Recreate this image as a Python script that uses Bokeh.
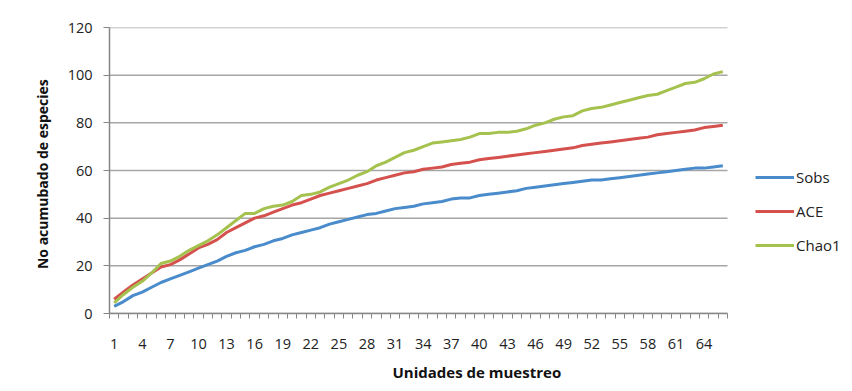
from bokeh.plotting import figure
from bokeh.models import FixedTicker, Legend, LegendItem, Title, Range1d
from bokeh.layouts import column
from bokeh.embed import file_html
from bokeh.resources import INLINE

units = list(range(1, 67))
sobs = [3, 5, 7.5, 9, 11, 13, 14.5, 16, 17.5, 19, 20.5, 22, 24, 25.5, 26.5, 28, 29, 30.5, 31.5, 33,
        34, 35, 36, 37.5, 38.5, 39.5, 40.5, 41.5, 42, 43, 44, 44.5, 45, 46, 46.5, 47, 48, 48.5, 48.5, 49.5,
        50, 50.5, 51, 51.5, 52.5, 53, 53.5, 54, 54.5, 55, 55.5, 56, 56, 56.5, 57, 57.5, 58, 58.5, 59, 59.5,
        60, 60.5, 61, 61, 61.5, 62]
ace = [6, 9, 12, 14.5, 17, 19.5, 20.5, 22.5, 25, 27.5, 29, 31, 34, 36, 38, 40, 41, 42.5, 44, 45.5,
       46.5, 48, 49.5, 50.5, 51.5, 52.5, 53.5, 54.5, 56, 57, 58, 59, 59.5, 60.5, 61, 61.5, 62.5, 63, 63.5, 64.5,
       65, 65.5, 66, 66.5, 67, 67.5, 68, 68.5, 69, 69.5, 70.5, 71, 71.5, 72, 72.5, 73, 73.5, 74, 75, 75.5,
       76, 76.5, 77, 78, 78.5, 79]
chao1 = [4.5, 8, 11, 13.5, 17, 21, 22, 24, 26.5, 28.5, 30.5, 33, 36, 39, 42, 42, 44, 45, 45.5, 47,
         49.5, 50, 51, 53, 54.5, 56, 58, 59.5, 62, 63.5, 65.5, 67.5, 68.5, 70, 71.5, 72, 72.5, 73, 74, 75.5,
         75.5, 76, 76, 76.5, 77.5, 79, 80, 81.5, 82.5, 83, 85, 86, 86.5, 87.5, 88.5, 89.5, 90.5, 91.5, 92, 93.5,
         95, 96.5, 97, 98.5, 100.5, 101.5]
series_names = ["Sobs", "ACE", "Chao1"]
y_ticks = [0, 20, 40, 60, 80, 100, 120]
x_tick_units = units[::3]

colors = ["#4A8CCB", "#D4514E", "#A5C24F"]
FONT = "Open Sans"
TICK_FS = "14.5px"

# layout geometry (pixels)
LEFT, RIGHT, TOP, BOTTOM = 109, 5, 20, 78
W, H = 852, 384
frame_w = W - LEFT - RIGHT
axis_px = 618  # width of the category axis in pixels
x0 = units[0] - 0.5
x1 = units[-1] + 0.5
x_end = x0 + (x1 - x0) * frame_w / axis_px

p = figure(width=W, height=H, output_backend="svg", toolbar_location=None,
           x_range=Range1d(x0, x_end), y_range=Range1d(y_ticks[0], y_ticks[-1]),
           min_border_left=LEFT, min_border_right=RIGHT, min_border_top=TOP, min_border_bottom=BOTTOM)
p.outline_line_color = None
p.background_fill_color = "white"
p.border_fill_color = "white"
p.xgrid.grid_line_color = None
p.ygrid.grid_line_color = None

# horizontal gridlines limited to the category span
p.segment(x0=[x0] * len(y_ticks), x1=[x1] * len(y_ticks), y0=y_ticks, y1=y_ticks,
          line_color="#A6A6A6", line_width=1.5)

renderers = []
for vals, c in zip([sobs, ace, chao1], colors):
    r = p.line(units, vals, line_color=c, line_width=3)
    renderers.append(r)

# x axis
p.xaxis.bounds = (x0, x1)
p.xaxis.ticker = FixedTicker(ticks=x_tick_units, minor_ticks=[u - 0.5 for u in units] + [x1])
p.xaxis.major_tick_line_color = None
p.xaxis.minor_tick_line_color = "#868686"
p.xaxis.minor_tick_out = 5
p.xaxis.minor_tick_in = 0
p.xaxis.axis_line_color = "#868686"
p.xaxis.axis_line_width = 1.5
p.xaxis.major_label_standoff = 19
p.xaxis.major_label_text_font = FONT
p.xaxis.major_label_text_font_size = TICK_FS
p.xaxis.major_label_text_color = "#222222"

# y axis
p.yaxis.ticker = FixedTicker(ticks=y_ticks)
p.yaxis.minor_tick_line_color = None
p.yaxis.major_tick_line_color = "#868686"
p.yaxis.major_tick_out = 6
p.yaxis.major_tick_in = 0
p.yaxis.axis_line_color = "#868686"
p.yaxis.axis_line_width = 1.5
p.yaxis.major_label_standoff = 11
p.yaxis.major_label_text_font = FONT
p.yaxis.major_label_text_font_size = TICK_FS
p.yaxis.major_label_text_color = "#222222"

# axis titles
p.add_layout(Title(text="Unidades de muestreo", align="left", offset=283, standoff=16,
                   text_font=FONT, text_font_style="bold", text_font_size="15px",
                   text_color="#111111"), "below")
p.add_layout(Title(text="No acumubado  de  especies", align="center", offset=0, standoff=26,
                   text_font=FONT, text_font_style="bold", text_font_size="14px",
                   text_color="#111111"), "left")

legend = Legend(items=[LegendItem(label=n, renderers=[r]) for n, r in zip(series_names, renderers)],
                location=(646, 58), orientation="vertical", border_line_color=None,
                background_fill_alpha=0, padding=0, margin=0, spacing=14,
                glyph_width=39, glyph_height=20, label_standoff=2,
                label_text_font=FONT, label_text_font_size="15px", label_text_color="#222222")
p.add_layout(legend)

# thin strip above the chart carrying the chart-area top border line
top = figure(width=W, height=391 - H, output_backend="svg", toolbar_location=None,
             x_range=Range1d(0, 1), y_range=Range1d(0, 1),
             min_border_left=8, min_border_right=0, min_border_top=0, min_border_bottom=0)
top.outline_line_color = None
top.xgrid.grid_line_color = None
top.ygrid.grid_line_color = None
top.yaxis.visible = False
top.xaxis.ticker = FixedTicker(ticks=[])
top.xaxis.major_tick_line_color = None
top.xaxis.minor_tick_line_color = None
top.xaxis.major_label_standoff = 0
top.xaxis.axis_line_color = "#A6A6A6"
top.xaxis.axis_line_width = 1.5

layout = column(top, p, spacing=0)
open("out.html", "w").write(file_html(layout, INLINE))
